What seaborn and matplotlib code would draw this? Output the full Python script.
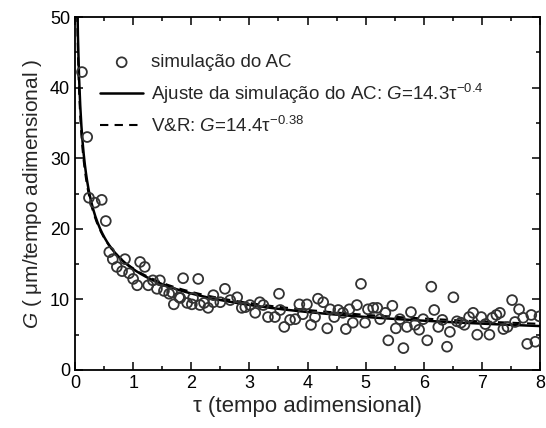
import numpy as np
import pandas as pd
import matplotlib
matplotlib.use("Agg")
import matplotlib.pyplot as plt
import seaborn as sns
from matplotlib.ticker import MultipleLocator

sns.set_theme(style="ticks")
plt.rcParams['font.family'] = ['Liberation Sans', 'DejaVu Sans']
plt.rcParams['mathtext.fontset'] = 'custom'
plt.rcParams['mathtext.rm'] = 'Liberation Sans'
plt.rcParams['mathtext.it'] = 'Liberation Sans:italic'

# simulated data
tau_sim = [0.12, 0.21, 0.24, 0.34, 0.46, 0.53, 0.59, 0.65, 0.72, 0.81, 0.86, 0.93, 1.00, 1.07,
           1.12, 1.20, 1.26, 1.34, 1.41, 1.46, 1.53, 1.62, 1.67, 1.70, 1.79, 1.81, 1.86, 1.93,
           2.03, 2.01, 2.12, 2.15, 2.22, 2.29, 2.38, 2.38, 2.50, 2.58, 2.67, 2.79, 2.87, 2.93,
           3.01, 3.10, 3.18, 3.24, 3.32, 3.44, 3.51, 3.53, 3.60, 3.70, 3.79, 3.86, 3.92, 3.99,
           4.06, 4.13, 4.18, 4.27, 4.34, 4.39, 4.46, 4.53, 4.61, 4.66, 4.72, 4.78, 4.85, 4.92,
           4.99, 5.04, 5.13, 5.20, 5.25, 5.34, 5.39, 5.46, 5.52, 5.59, 5.65, 5.71, 5.78, 5.85,
           5.92, 5.99, 6.06, 6.13, 6.18, 6.25, 6.32, 6.40, 6.45, 6.51, 6.57, 6.64, 6.70, 6.78,
           6.85, 6.92, 6.99, 7.06, 7.13, 7.18, 7.25, 7.31, 7.37, 7.44, 7.52, 7.57, 7.64, 7.71,
           7.78, 7.85, 7.92, 7.99]
g_sim = [42.2, 33.0, 24.4, 23.7, 24.1, 21.1, 16.7, 15.7, 14.6, 14.0, 15.7, 13.7, 12.9, 12.0,
         15.3, 14.6, 12.0, 12.7, 11.5, 12.7, 11.2, 10.8, 11.0, 9.3, 10.3, 10.2, 13.0, 9.5,
         10.2, 9.3, 12.9, 9.2, 9.5, 8.8, 10.6, 9.6, 9.6, 11.5, 9.9, 10.3, 8.8, 8.9,
         9.2, 8.1, 9.6, 9.2, 7.5, 7.5, 10.8, 8.5, 6.1, 7.1, 7.2, 9.3, 7.9, 9.3,
         6.4, 7.5, 10.1, 9.6, 5.9, 8.6, 7.5, 8.5, 8.1, 5.8, 8.6, 6.7, 9.2, 12.2,
         6.7, 8.6, 8.8, 8.8, 7.2, 8.1, 4.2, 9.1, 5.9, 7.2, 3.1, 6.1, 8.2, 6.4,
         5.7, 7.2, 4.2, 11.8, 8.5, 6.1, 7.1, 3.3, 5.4, 10.3, 6.9, 6.7, 6.4, 7.5,
         8.1, 5.0, 7.5, 6.5, 5.0, 7.4, 7.8, 8.1, 5.8, 6.1, 9.9, 6.8, 8.6, 7.4,
         3.7, 7.8, 4.0, 7.6]

# fit parameters
fit_a, fit_b = 14.3, -0.4
vr_a, vr_b = 14.4, -0.38

tau_line = np.linspace(0.03, 8, 400)
df_fit = pd.DataFrame({"tau": tau_line, "G": fit_a * tau_line ** fit_b})
df_vr = pd.DataFrame({"tau": tau_line, "G": vr_a * tau_line ** vr_b})
df_sim = pd.DataFrame({"tau": tau_sim, "G": g_sim})

fig = plt.figure(figsize=(5.46, 4.28), dpi=100)
ax = fig.add_axes([75/546, 1-370/428, 465/546, 353/428])

sns.scatterplot(data=df_sim, x="tau", y="G", ax=ax, marker="o", s=50,
                facecolors="none", edgecolor="#333333", linewidth=1.3,
                label="simulação do AC", zorder=3)
sns.lineplot(data=df_fit, x="tau", y="G", ax=ax, color="black", linewidth=1.8,
             label="Ajuste da simulação do AC: $G$=14.3τ$^{-0.4}$")
sns.lineplot(data=df_vr, x="tau", y="G", ax=ax, color="black", linewidth=1.5,
             linestyle=(0, (4, 3)), label="V&R: $G$=14.4τ$^{-0.38}$")

ax.set_xlim(0, 8)
ax.set_ylim(0, 50)
ax.xaxis.set_major_locator(MultipleLocator(1))
ax.xaxis.set_minor_locator(MultipleLocator(0.5))
ax.yaxis.set_major_locator(MultipleLocator(10))
ax.yaxis.set_minor_locator(MultipleLocator(5))
ax.tick_params(which="both", direction="in", top=True, right=True, colors="black",
               labelsize=13, width=1.1)
ax.tick_params(which="major", length=6)
ax.tick_params(which="minor", length=3)
for sp in ax.spines.values():
    sp.set_linewidth(1.3)
    sp.set_color("black")

ax.set_xlabel("τ (tempo adimensional)", fontsize=16, labelpad=3)
ax.set_ylabel("$G$ ( μm/tempo adimensional )", fontsize=15, labelpad=4)

leg = ax.legend(loc="upper left", frameon=False, fontsize=13.5,
                bbox_to_anchor=(0.054, 0.895), handlelength=2.3, handletextpad=0.4,
                labelspacing=0.55, borderaxespad=0, borderpad=0)

fig.savefig("out.png", dpi=100)
